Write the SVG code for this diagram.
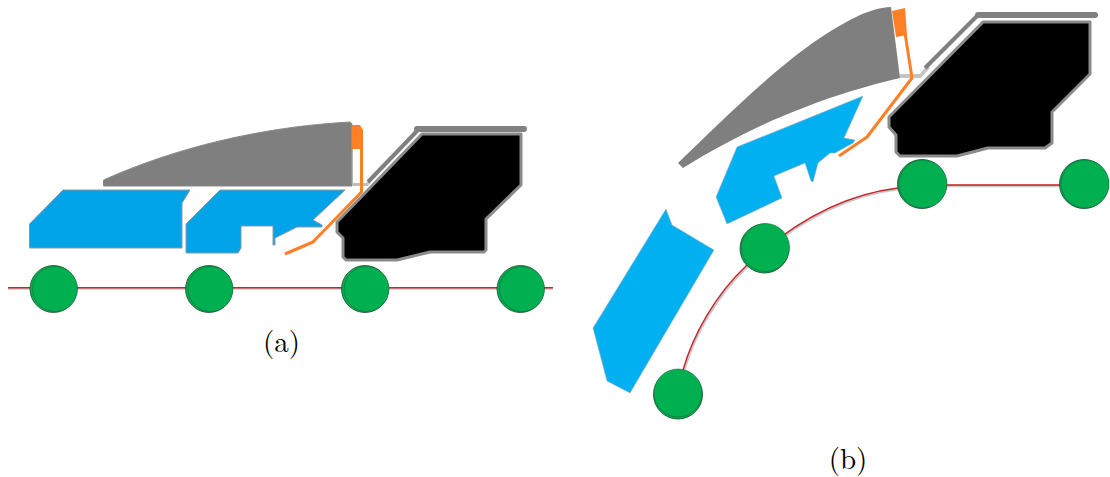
<svg xmlns="http://www.w3.org/2000/svg" width="1110" height="477" viewBox="0 0 1110 477">
<style>
.lbl{font-family:"Latin Modern Roman","Liberation Serif",serif;font-size:29px;fill:#000;text-anchor:middle}
.gray{fill:#7f7f7f;stroke:#8a8a8a;stroke-width:1;stroke-linejoin:round}
.blueA{fill:#00a2e8;stroke:#8a9aa5;stroke-width:1}
.blueB{fill:#00b0f0;stroke:#9ab0bb;stroke-width:.6}
.orange{fill:#ff7f27}
.oline{fill:none;stroke:#ff7f27;stroke-width:3;stroke-linejoin:round}
.cab{fill:#000;stroke:#8a8a8a;stroke-width:3;stroke-linejoin:round}
.frame{fill:none;stroke:#808080;stroke-width:4;stroke-linejoin:round}
.bar{fill:none;stroke:#808080;stroke-width:6;stroke-linecap:round}
.light{fill:none;stroke:#bdbdbd;stroke-width:3}
.wback{fill:#00b050;stroke:#1c4a2c;stroke-width:.8}
.wheel{fill:#00b050;stroke:#1c5a34;stroke-width:.5}
.rail{fill:none;stroke:#c9c9c9;stroke-width:2.4}
.red{fill:none;stroke:#c8252c;stroke-width:1.4}
</style>
<g id="connectors">
<path class="rail" d="M8 288.500H553"/><path class="red" d="M8 287.800H553"/>
<path class="rail" d="M684 371C694 336 716 296 748 266C791 226 841 196 899 189L922 186H1084"/>
<path class="red" d="M683 370C693 335 715 295 747 265C790 225 840 195 898 188L922 185H1084"/>
</g>
<g id="roof-a"><path class="gray" d="M103.500 180C175 148 260 127 350 122L352 124V186H103.500Z"/></g>
<g id="blue-a1"><path class="blueA" d="M63 190H190L182 203V248H29.500V224Z"/></g>
<g id="blue-a2"><path class="blueA" d="M220 190L186 224V253H238L241 248V226H273V245H275V238L297 227L322 227V225L313 220L345 190Z"/></g>
<g id="door-a">
<path class="orange" d="M351.500 125H360L363 130V149H351.500Z"/>
<path fill="none" stroke="#a0a0a0" stroke-width="1" d="M352 149V184"/>
<path class="light" d="M352 184.500H367L370 181"/>
<path class="oline" d="M361.500 148V192L313 242L285 254"/>
</g>
<g id="cab-a">
<path class="frame" d="M368 182L417 131"/><path class="bar" d="M417 129H524"/>
<path class="cab" d="M422 134H521V185L486 219V250L484 252H430L397 260H346L343 257V238L337 232V222Z"/>
</g>
<g id="wheel-a1"><circle class="wback" cx="53.500" cy="289" r="23.500"/><circle class="wheel" cx="55" cy="289" r="22.500"/></g>
<g id="wheel-a2"><circle class="wback" cx="209" cy="289" r="23.500"/><circle class="wheel" cx="210.500" cy="289" r="22.500"/></g>
<g id="wheel-a3"><circle class="wback" cx="365" cy="289" r="23.500"/><circle class="wheel" cx="366.500" cy="289" r="22.500"/></g>
<g id="wheel-a4"><circle class="wback" cx="520.500" cy="289" r="23.500"/><circle class="wheel" cx="522" cy="289" r="22.500"/></g>
<text class="lbl" x="281.500" y="352">(a)</text>

<g id="roof-b"><path d="M678 163L683 168C717 147 760 124 803 108C835 95 870 85 900 78L891 7C868 8 845 22 820 38C775 68 725 118 678 163Z" fill="#7f7f7f"/></g>
<g id="blue-b1"><path class="blueB" d="M666 209L672 225L714 250L630 393L607 381L593 328Z"/></g>
<g id="blue-b2"><path class="blueB" d="M737 147L863 96L844 138L855 140L853 143L835 153L830 153L818 163L813 182L811 181L805 163L774 176L782 198L727 224L716 197Z"/></g>
<g id="door-b">
<path class="orange" d="M892 11L905 8L907 35L896 37Z"/>
<path d="M900 74H920L927 65L930 68L921 78H900Z" fill="#c4c4c4"/>
<path class="oline" d="M905 33L912 78L867 137L839 156"/>
</g>
<g id="cab-b">
<path class="frame" d="M925 68L978 15"/><path class="bar" d="M978 15H1095"/>
<path class="cab" d="M983 22H1090V74L1052 112V143L1045 148H988L957 156H900L896 152V135L889 127V117Z"/>
</g>
<g id="wheel-b1"><circle class="wback" cx="678" cy="394.500" r="24.500"/><circle class="wheel" cx="678" cy="393" r="24"/></g>
<g id="wheel-b2"><circle class="wback" cx="764.500" cy="248.500" r="24.500"/><circle class="wheel" cx="765.500" cy="247.500" r="24"/></g>
<g id="wheel-b3"><circle class="wback" cx="922" cy="184" r="24.500"/><circle class="wheel" cx="923" cy="184" r="24"/></g>
<g id="wheel-b4"><circle class="wback" cx="1084" cy="184" r="24.500"/><circle class="wheel" cx="1085" cy="184" r="24"/></g>
<text class="lbl" x="848" y="469">(b)</text>
</svg>
